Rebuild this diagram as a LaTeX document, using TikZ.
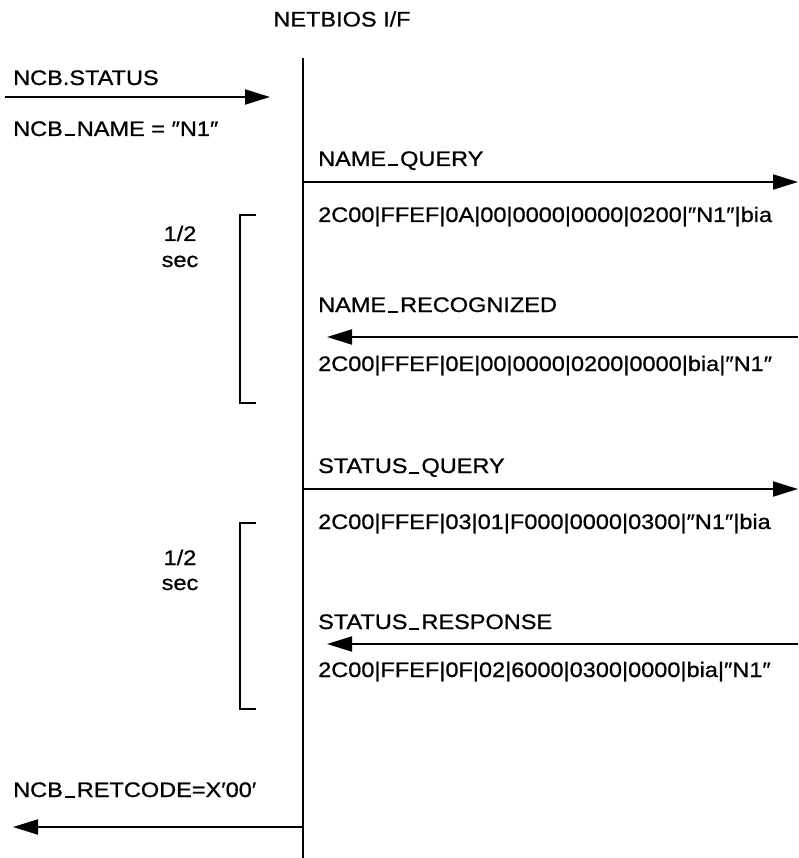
\documentclass[tikz,border=0pt]{standalone}
\usepackage{fontspec}
\setmainfont{Liberation Sans}[FakeStretch=1.12,FakeBold=0.8]
\usetikzlibrary{arrows.meta}
\newcommand{\usc}{\kern2pt\rule[-0.5pt]{10pt}{2pt}\kern2pt}
\tikzset{
  msg/.style={-{Triangle[length=25pt,width=15pt]}, line width=2pt},
  lbl/.style={anchor=base west, inner sep=0pt, font=\fontsize{21}{25}\selectfont},
  bracketline/.style={line width=2pt}
}

\begin{document}
\begin{tikzpicture}[x=1pt,y=-1pt]
    \useasboundingbox (0,0) rectangle (798,858);

    % Interface lifeline
    \node[lbl, anchor=base] (nbif) at (342,26.5) {NETBIOS I/F};
    \coordinate (lifetop) at (303,58);
    \coordinate (lifebot) at (303,858);
    \draw[line width=2pt] (lifetop) -- (lifebot);

    % Request from the user
    \node[lbl] (ncbstat) at (13,85) {NCB.STATUS};
    \node[lbl] (ncbname) at (13,136) {NCB\usc NAME = ″N1″};
    \coordinate (reqA) at (5,97);
    \coordinate (reqB) at (270,97);
    \draw[msg] (reqA) -- (reqB);

    % First exchange: NAME_QUERY / NAME_RECOGNIZED
    \node[lbl] (nq) at (318,166) {NAME\usc QUERY};
    \coordinate (nqA) at (303,182);
    \coordinate (nqB) at (798,182);
    \draw[msg] (nqA) -- (nqB);
    \node[lbl] (nqdata) at (318,222) {2C00|FFEF|0A|00|0000|0000|0200|″N1″|bia};

    \node[lbl] (nr) at (318,312) {NAME\usc RECOGNIZED};
    \coordinate (nrA) at (798,337);
    \coordinate (nrB) at (327,337);
    \draw[msg] (nrA) -- (nrB);
    \node[lbl] (nrdata) at (318,371) {2C00|FFEF|0E|00|0000|0200|0000|bia|″N1″};

    % Timer 1
    \coordinate (brA) at (256,215);
    \coordinate (brB) at (240,215);
    \coordinate (brC) at (240,403);
    \coordinate (brD) at (256,403);
    \draw[bracketline] (brA) -- (brB) -- (brC) -- (brD);
    \node[lbl, anchor=base] (half1) at (180,241) {1/2};
    \node[lbl, anchor=base] (sec1) at (180,267) {sec};

    % Second exchange: STATUS_QUERY / STATUS_RESPONSE
    \node[lbl] (sq) at (318,473) {STATUS\usc QUERY};
    \coordinate (sqA) at (303,489);
    \coordinate (sqB) at (798,489);
    \draw[msg] (sqA) -- (sqB);
    \node[lbl] (sqdata) at (318,529) {2C00|FFEF|03|01|F000|0000|0300|″N1″|bia};

    \node[lbl] (sr) at (318,629) {STATUS\usc RESPONSE};
    \coordinate (srA) at (798,644);
    \coordinate (srB) at (327,644);
    \draw[msg] (srA) -- (srB);
    \node[lbl] (srdata) at (318,677) {2C00|FFEF|0F|02|6000|0300|0000|bia|″N1″};

    % Timer 2
    \coordinate (bsA) at (256,523);
    \coordinate (bsB) at (240,523);
    \coordinate (bsC) at (240,709);
    \coordinate (bsD) at (256,709);
    \draw[bracketline] (bsA) -- (bsB) -- (bsC) -- (bsD);
    \node[lbl, anchor=base] (half2) at (180,565) {1/2};
    \node[lbl, anchor=base] (sec2) at (180,590) {sec};

    % Return to the user
    \node[lbl] (ret) at (13,797) {NCB\usc RETCODE=X′00′};
    \coordinate (retA) at (303,827);
    \coordinate (retB) at (13,827);
    \draw[msg] (retA) -- (retB);
\end{tikzpicture}
\end{document}
